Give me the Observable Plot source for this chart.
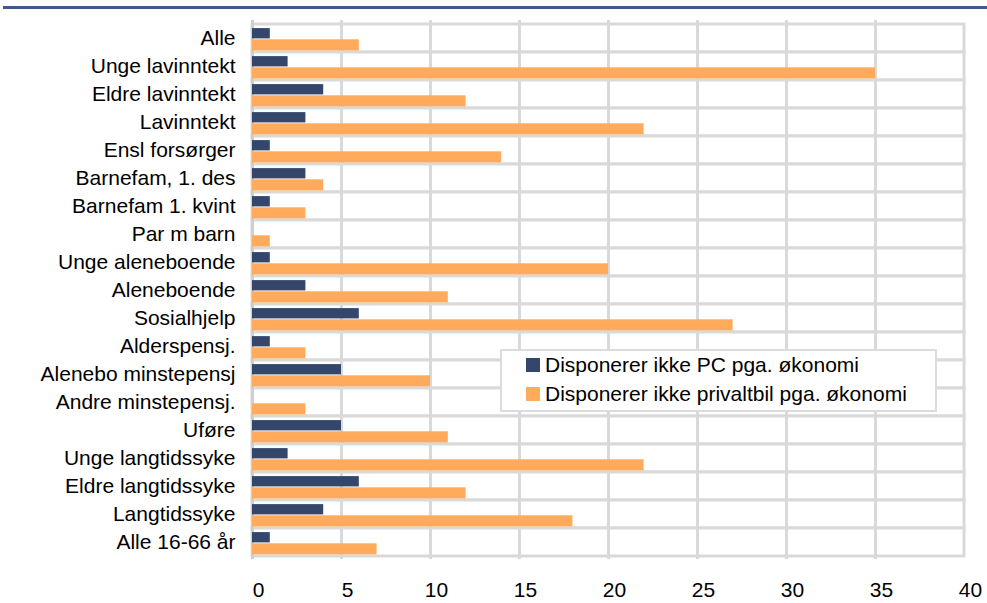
<!DOCTYPE html>
<html>
<head>
<meta charset="utf-8">
<script src="https://cdn.jsdelivr.net/npm/d3@7"></script>
<script src="https://cdn.jsdelivr.net/npm/@observablehq/plot@0.6"></script>
<style>
  html, body { margin: 0; padding: 0; background: #fff; }
  #wrap { position: relative; width: 987px; height: 603px; font-family: "Liberation Sans", Arial, sans-serif; }
  #topline { position: absolute; left: 3px; top: 6px; width: 984px; height: 3px; background: #3e5a8a; }
  #legend { position: absolute; left: 500px; top: 349px; width: 433px; height: 59px; background: #fff;
            border: 2px solid #dcdcdc; font-size: 21px; color: #000; }
  .li { position: absolute; left: 24px; height: 22px; display: flex; align-items: center; white-space: nowrap; }
  .sw { width: 14px; height: 14px; margin-right: 5px; display: inline-block; }
</style>
</head>
<body>
<div id="wrap">
  <div id="chart"></div>
  <div id="topline"></div>
  <div id="legend"></div>
</div>
<script>
const categories = ["Alle", "Unge lavinntekt", "Eldre lavinntekt", "Lavinntekt", "Ensl forsørger",
  "Barnefam, 1. des", "Barnefam 1. kvint", "Par m barn", "Unge aleneboende", "Aleneboende",
  "Sosialhjelp", "Alderspensj.", "Alenebo minstepensj", "Andre minstepensj.", "Uføre",
  "Unge langtidssyke", "Eldre langtidssyke", "Langtidssyke", "Alle 16-66 år"];
const pcValues  = [1, 2, 4, 3, 1, 3, 1, 0, 1, 3, 6, 1, 5, 0, 5, 2, 6, 4, 1];
const bilValues = [6, 35, 12, 22, 14, 4, 3, 1, 20, 11, 27, 3, 10, 3, 11, 22, 12, 18, 7];
const seriesNames = ["Disponerer ikke PC pga. økonomi", "Disponerer ikke privaltbil pga. økonomi"];
const seriesColors = ["#34466b", "#ffab5b"];
const xTicks = [0, 5, 10, 15, 20, 25, 30, 35, 40];

const pcData = categories.map((c, i) => ({cat: c, value: pcValues[i]}));
const bilData = categories.map((c, i) => ({cat: c, value: bilValues[i]}));

const chart = Plot.plot({
  width: 987,
  height: 603,
  marginLeft: 252,
  marginRight: 23,
  marginTop: 20,
  marginBottom: 44,
  style: {fontFamily: "'Liberation Sans', Arial, sans-serif", fontSize: "21px", color: "#000", background: "transparent"},
  x: {domain: [0, 40], label: null},
  y: {domain: categories, padding: 0, label: null},
  marks: [
    Plot.barX(categories, {x1: 0, x2: 40, y: d => d, fill: "#fff", stroke: "#d9d9d9", strokeWidth: 3}),
    Plot.ruleX(xTicks.slice(1, -1), {stroke: "#d9d9d9", strokeWidth: 3}),
    Plot.ruleX([0], {stroke: "#cfcfcf", strokeWidth: 3}),
    Plot.barX(pcData, {x: "value", y: "cat", fill: seriesColors[0], insetTop: 4.1, insetBottom: 13.6}),
    Plot.barX(bilData, {x: "value", y: "cat", fill: seriesColors[1], insetTop: 15.3, insetBottom: 1.6}),
    Plot.axisX(xTicks, {tickSize: 0, tickPadding: 23, dx: 6, fontSize: 21, label: null}),
    Plot.axisY(categories, {tickSize: 0, tickPadding: 17, fontSize: 21, label: null})
  ]
});
document.getElementById("chart").appendChild(chart);

const legend = document.getElementById("legend");
seriesNames.forEach((name, i) => {
  const row = document.createElement("div");
  row.className = "li";
  row.style.top = (i === 0 ? 3 : 32) + "px";
  const sw = document.createElement("span");
  sw.className = "sw";
  sw.style.background = seriesColors[i];
  const t = document.createElement("span");
  t.textContent = name;
  row.appendChild(sw);
  row.appendChild(t);
  legend.appendChild(row);
});
</script>
</body>
</html>
